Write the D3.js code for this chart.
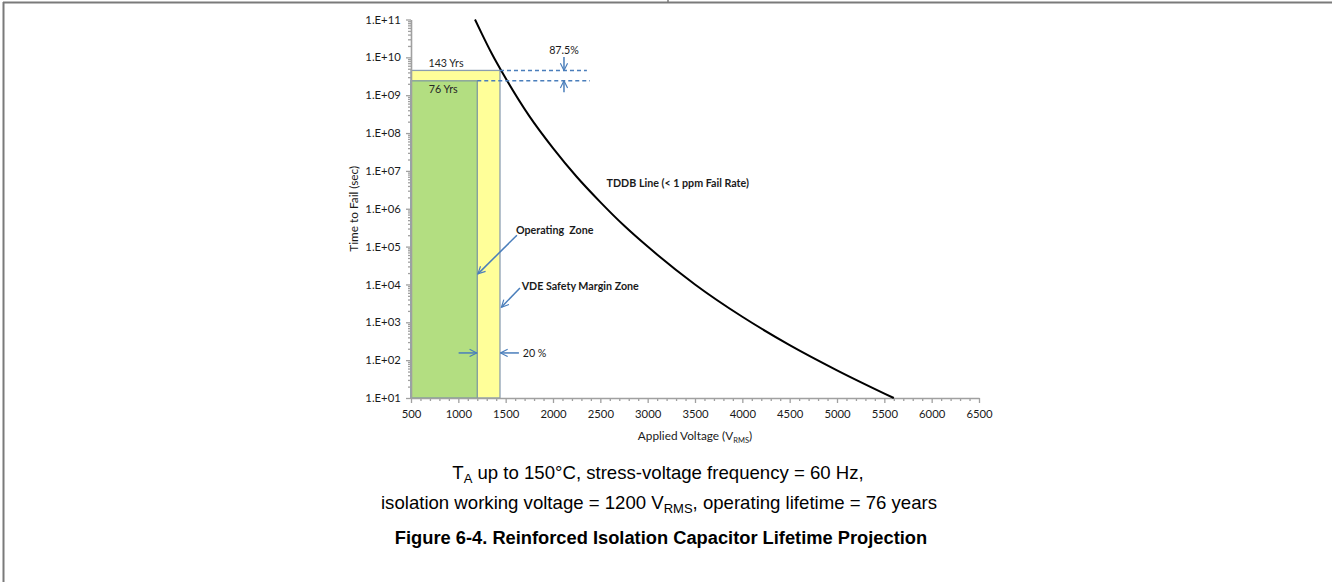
<!DOCTYPE html>
<html><head><meta charset="utf-8">
<script src="https://cdn.jsdelivr.net/npm/d3@7"></script>
<style>
html,body{margin:0;padding:0;background:#fff;}
svg{display:block;}
</style></head>
<body>
<svg id="chart" width="1332" height="582"></svg>
<script>
// ---- data ----
const xTicks = [500,1000,1500,2000,2500,3000,3500,4000,4500,5000,5500,6000,6500];
const yDecades = [1e1,1e2,1e3,1e4,1e5,1e6,1e7,1e8,1e9,1e10,1e11];
const tddbVoltage = [1176,1250,1350,1500,1750,2000,2250,2500,2750,3000,3500,4000,4500,5000,5600];
const tddbTime    = [1e11,4.1e10,1.3e10,2.8e9,2.8e8,4.0e7,7.0e6,1.5e6,3.6e5,1.0e5,1.0e4,1.4e3,2.5e2,54,10];
const zoneNames    = ["VDE Safety Margin Zone","Operating Zone"];
const zoneVoltage  = [1440,1200];            // right edge (V_RMS)
const zoneYears    = [143,76];               // lifetime
const zoneTime     = [4.513e9,2.399e9];      // seconds
const zoneLabels   = ["143 Yrs","76 Yrs"];
const zoneLabelV   = [870,840];
const zoneLabelT   = [5.7e9,1.14e9];

const W = 1332, H = 582;
const svg = d3.select("#chart");
const font = "Lato, 'Open Sans', sans-serif";

// page frame
svg.append("line").attr("x1",3).attr("x2",W).attr("y1",2.5).attr("y2",2.5).attr("stroke","#7a7a7a").attr("stroke-width",2);
svg.append("line").attr("x1",3.5).attr("x2",3.5).attr("y1",2).attr("y2",H).attr("stroke","#7a7a7a").attr("stroke-width",2);
svg.append("line").attr("x1",668).attr("x2",668).attr("y1",0).attr("y2",3).attr("stroke","#7a7a7a").attr("stroke-width",1.5);

const x = d3.scaleLinear().domain([500,6500]).range([411,979]);
const y = d3.scaleLog().domain([10,1e11]).range([398,19.5]);

const defs = svg.append("defs");
defs.append("marker").attr("id","arr").attr("viewBox","0 0 10 10").attr("refX",9).attr("refY",5)
  .attr("markerWidth",9).attr("markerHeight",9).attr("markerUnits","userSpaceOnUse").attr("orient","auto")
  .append("path").attr("d","M1,1 L9,5 L1,9").attr("fill","none").attr("stroke","#4a7ebb").attr("stroke-width",1.3);

// zones (yellow first, green on top)
const zoneFill = ["#ffff99","#b3de81"];
const zoneStroke = ["#8b9eb0","#7f9a9f"];
zoneNames.forEach((n,i)=>{
  svg.append("rect")
    .attr("x",x(500)).attr("y",y(zoneTime[i]))
    .attr("width",x(zoneVoltage[i])-x(500))
    .attr("height",y(10)-y(zoneTime[i]))
    .attr("fill",zoneFill[i]).attr("stroke",zoneStroke[i]).attr("stroke-width",1.3);
});
zoneLabels.forEach((t,i)=>{
  svg.append("text").attr("x",x(zoneLabelV[i])).attr("y",y(zoneLabelT[i]))
    .attr("text-anchor","middle").attr("font-family",font).attr("font-size",10.7).attr("fill","#262626").text(t);
});

// axes
const minorX = d3.range(500,6501,100).filter(v=>v%500!==0);
const minorY = [];
yDecades.slice(0,-1).forEach(d=>{for(let k=2;k<10;k++) minorY.push(d*k);});

const gx = svg.append("g").attr("transform",`translate(0,${y(10)})`);
gx.call(d3.axisBottom(x).tickValues(xTicks).tickSize(5).tickSizeOuter(0).tickFormat(d=>d));
const gxm = svg.append("g").attr("transform",`translate(0,${y(10)})`);
gxm.call(d3.axisBottom(x).tickValues(minorX).tickSize(3).tickSizeOuter(0).tickFormat(""));
gxm.select(".domain").remove();

const gy = svg.append("g").attr("transform",`translate(${x(500)},0)`);
gy.call(d3.axisLeft(y).tickValues(yDecades).tickSize(5).tickSizeOuter(0)
  .tickFormat(d=>"1.E+"+String(Math.round(Math.log10(d))).padStart(2,"0")));
const gym = svg.append("g").attr("transform",`translate(${x(500)},0)`);
gym.call(d3.axisLeft(y).tickValues(minorY).tickSize(3).tickSizeOuter(0).tickFormat(""));
gym.select(".domain").remove();

svg.selectAll(".domain").attr("stroke","#a0a0a0").attr("stroke-width",1.6);
svg.selectAll(".tick line").attr("stroke","#a0a0a0").attr("stroke-width",1.3);
svg.selectAll(".tick text").attr("font-family",font).attr("font-size",11.3).attr("fill","#1a1a1a");
gx.selectAll(".tick text").attr("dy","1.1em");
gy.selectAll(".tick text").attr("dx","-0.2em");

// axis titles
svg.append("text").attr("transform",`translate(358,${(y(10)+y(1e11))/2}) rotate(-90)`)
  .attr("text-anchor","middle").attr("font-family",font).attr("font-size",11.8).attr("fill","#1a1a1a")
  .text("Time to Fail (sec)");
const xt = svg.append("text").attr("x",(x(500)+x(6500))/2).attr("y",440)
  .attr("text-anchor","middle").attr("font-family",font).attr("font-size",11.8).attr("fill","#1a1a1a");
xt.append("tspan").text("Applied Voltage (V");
xt.append("tspan").attr("font-size",7.5).attr("dy",2.5).text("RMS");
xt.append("tspan").attr("dy",-2.5).text(")");

// TDDB line
const pts = tddbVoltage.map((v,i)=>[v,tddbTime[i]]);
svg.append("path").datum(pts)
  .attr("d",d3.line().x(d=>x(d[0])).y(d=>y(d[1])).curve(d3.curveMonotoneX))
  .attr("fill","none").attr("stroke","#000").attr("stroke-width",2);

// dashed level lines
const dashStartV = [1440,1200];
const dashEndV = [2358,2390];
zoneTime.forEach((t,i)=>{
  svg.append("line").attr("x1",x(dashStartV[i])).attr("x2",x(dashEndV[i]))
    .attr("y1",y(t)).attr("y2",y(t)).attr("stroke","#4a7ebb").attr("stroke-width",1.5).attr("stroke-dasharray","4,3");
});

// annotation arrows  [fromV, fromT, toV, toT]
const arrows = [
  [2116, 1.02e10, 2116, zoneTime[0]],
  [2116, 1.2e9, 2116, zoneTime[1]],
  [1619, 2.0e5, 1207, 1.9e4],
  [1651, 8.1e3, 1455, 2.5e3],
  [1003, 155, 1195, 155],
  [1640, 155, 1445, 155]
];
arrows.forEach(a=>{
  svg.append("line").attr("x1",x(a[0])).attr("y1",y(a[1])).attr("x2",x(a[2])).attr("y2",y(a[3]))
    .attr("stroke","#4a7ebb").attr("stroke-width",1.5).attr("marker-end","url(#arr)");
});

// annotation texts [text, V, T, bold]
const notes = [
  ["87.5%", 2116, 1.23e10, false, "middle"],
  ["Operating  Zone", 1609, 2.2e5, true, "start"],
  ["VDE Safety Margin Zone", 1669, 7.1e3, true, "start"],
  ["20 %", 1680, 121, false, "start"],
  ["TDDB Line (< 1 ppm Fail Rate)", 2566, 3.76e6, true, "start"]
];
notes.forEach(n=>{
  svg.append("text").attr("x",x(n[1])).attr("y",y(n[2])).attr("text-anchor",n[4])
    .attr("font-family",font).attr("font-size",10.7).attr("font-weight",n[3]?"bold":"normal")
    .attr("fill","#1a1a1a").style("white-space","pre").text(n[0]);
});

// caption
const cf = "'Liberation Sans', Arial, sans-serif";
const c1 = svg.append("text").attr("x",658).attr("y",479).attr("text-anchor","middle")
  .attr("font-family",cf).attr("font-size",18.6).attr("fill","#000");
c1.append("tspan").text("T");
c1.append("tspan").attr("font-size",13).attr("dy",4).text("A");
c1.append("tspan").attr("dy",-4).text(" up to 150°C, stress-voltage frequency = 60 Hz,");
const c2 = svg.append("text").attr("x",659).attr("y",509).attr("text-anchor","middle")
  .attr("font-family",cf).attr("font-size",18.6).attr("fill","#000");
c2.append("tspan").text("isolation working voltage = 1200 V");
c2.append("tspan").attr("font-size",13).attr("dy",4).text("RMS");
c2.append("tspan").attr("dy",-4).text(", operating lifetime = 76 years");
svg.append("text").attr("x",661).attr("y",544).attr("text-anchor","middle")
  .attr("font-family",cf).attr("font-size",18.3).attr("font-weight","bold").attr("fill","#000")
  .text("Figure 6-4. Reinforced Isolation Capacitor Lifetime Projection");
</script>
</body></html>
